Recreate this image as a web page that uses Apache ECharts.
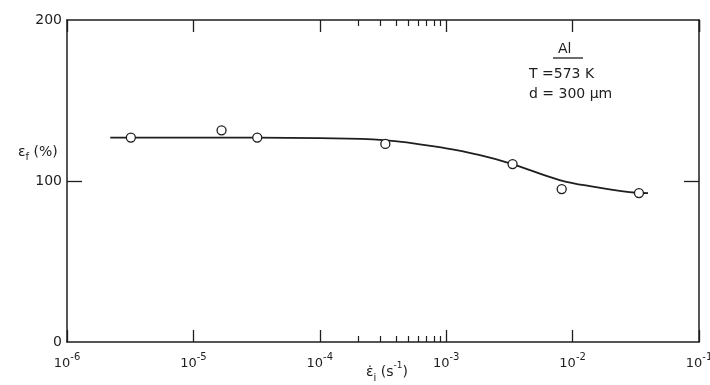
<!DOCTYPE html>
<html>
<head>
<meta charset="utf-8">
<script src="https://cdn.jsdelivr.net/npm/echarts@6/dist/echarts.min.js"></script>
<style>
html, body { margin: 0; padding: 0; background: #fff; }
#box1 { width: 710px; height: 385px; }
</style>
</head>
<body>
<div id="box1"></div>
<script>
// measured points (strain rate, elongation %)
var rates = [3.2e-6, 1.67e-5, 3.2e-5, 3.3e-4, 3.35e-3, 8.2e-3, 3.35e-2];
var elong = [127, 131.5, 127, 123, 110.5, 95, 92.5];
// hand drawn curve through them
var fitRates = [2.2e-6, 1e-5, 1e-4, 3.2e-4, 1e-3, 1.85e-3, 3.2e-3, 7.9e-3, 1.45e-2, 3.2e-2, 3.95e-2];
var fitElong = [127, 127, 126.6, 125.4, 120.3, 116.1, 111, 100.6, 96.5, 92.7, 92.5];
// ticks
var minorRates = [2e-4, 3e-4, 4e-4, 5e-4, 6e-4, 7e-4, 8e-4, 9e-4];
var yTicks = [100];

var font = 'DejaVu Sans';
var ink = '#1e1e1e';

window.onload = function () {
    var myChart = echarts.init(document.getElementById('box1'));

    var pts = rates.map(function (r, i) { return [r, elong[i]]; });
    var fit = fitRates.map(function (r, i) { return [r, fitElong[i]]; });

    function xAx(pos, major) {
        return {
            type: 'log', logBase: 10, min: 1e-6, max: 1e-1,
            position: pos, gridIndex: 0,
            axisLine: { show: major, onZero: false, lineStyle: { color: ink, width: 1.5 } },
            axisTick: major
                ? { inside: true, length: 12, lineStyle: { color: ink, width: 1.3 } }
                : { inside: true, length: 6, customValues: minorRates, lineStyle: { color: ink, width: 1.2 } },
            axisLabel: { show: false },
            splitLine: { show: false },
            minorTick: { show: false }
        };
    }

    var bottom = xAx('bottom', true);
    bottom.axisLabel = {
        show: true, margin: 10, color: ink, fontFamily: font,
        showMinLabel: true, showMaxLabel: true,
        formatter: function (v) {
            var p = Math.round(Math.log10(v));
            return '{b|10}{s|' + p + '}';
        },
        rich: {
            b: { fontSize: 13, fontFamily: font, color: ink, lineHeight: 24 },
            s: { fontSize: 10, fontFamily: font, color: ink, verticalAlign: 'top' }
        }
    };

    function yAx(pos) {
        return {
            type: 'value', min: 0, max: 200, interval: 100, position: pos,
            axisLine: { show: true, onZero: false, lineStyle: { color: ink, width: 1.5 } },
            axisTick: { inside: true, length: 15, customValues: yTicks, lineStyle: { color: ink, width: 1.3 } },
            axisLabel: { show: pos == 'left', margin: 5, fontSize: 14, fontFamily: font, color: ink },
            splitLine: { show: false }
        };
    }

    var option = {
        backgroundColor: '#fff',
        animation: false,
        grid: { left: 67, right: 11, top: 20, bottom: 43, outerBoundsMode: 'none', containLabel: false },
        xAxis: [bottom, xAx('top', true), xAx('bottom', false), xAx('top', false)],
        yAxis: [yAx('left'), yAx('right')],
        graphic: [
            {
                type: 'text', left: 18, top: 145,
                style: {
                    text: '{e|ε}{f|f}{e| (%)}',
                    rich: {
                        e: { fontSize: 14, fontFamily: font, fill: ink, lineHeight: 20 },
                        f: { fontSize: 10, fontFamily: font, fill: ink, verticalAlign: 'bottom' }
                    }
                }
            },
            {
                type: 'text', x: 387, y: 372,
                style: {
                    text: '{e|ε̇}{i|i}{e| (s}{p|-1}{e|)}',
                    align: 'center', verticalAlign: 'middle',
                    rich: {
                        e: { fontSize: 14, fontFamily: font, fill: ink, lineHeight: 22 },
                        i: { fontSize: 10, fontFamily: font, fill: ink, verticalAlign: 'bottom' },
                        p: { fontSize: 9, fontFamily: font, fill: ink, verticalAlign: 'top' }
                    }
                }
            },
            { type: 'text', left: 558, top: 42, style: { text: 'Al', fontSize: 14, fontFamily: font, fill: ink } },
            { type: 'line', shape: { x1: 553, y1: 58, x2: 583, y2: 58 }, style: { stroke: ink, lineWidth: 1.3 } },
            { type: 'text', left: 529, top: 67, style: { text: 'T =573 K', fontSize: 14, fontFamily: font, fill: ink } },
            { type: 'text', left: 529, top: 87, style: { text: 'd = 300 μm', fontSize: 14, fontFamily: font, fill: ink } }
        ],
        series: [
            {
                type: 'line', data: fit, smooth: 0.4, showSymbol: false,
                lineStyle: { color: ink, width: 1.8 }, z: 2
            },
            {
                type: 'scatter', data: pts, symbol: 'circle', symbolSize: 9,
                itemStyle: { color: '#fff', borderColor: ink, borderWidth: 1.3, opacity: 1 }, z: 3
            }
        ]
    };
    myChart.setOption(option);
    window.addEventListener('resize', function () {
        myChart.resize();
    });
};
</script>
</body>
</html>
